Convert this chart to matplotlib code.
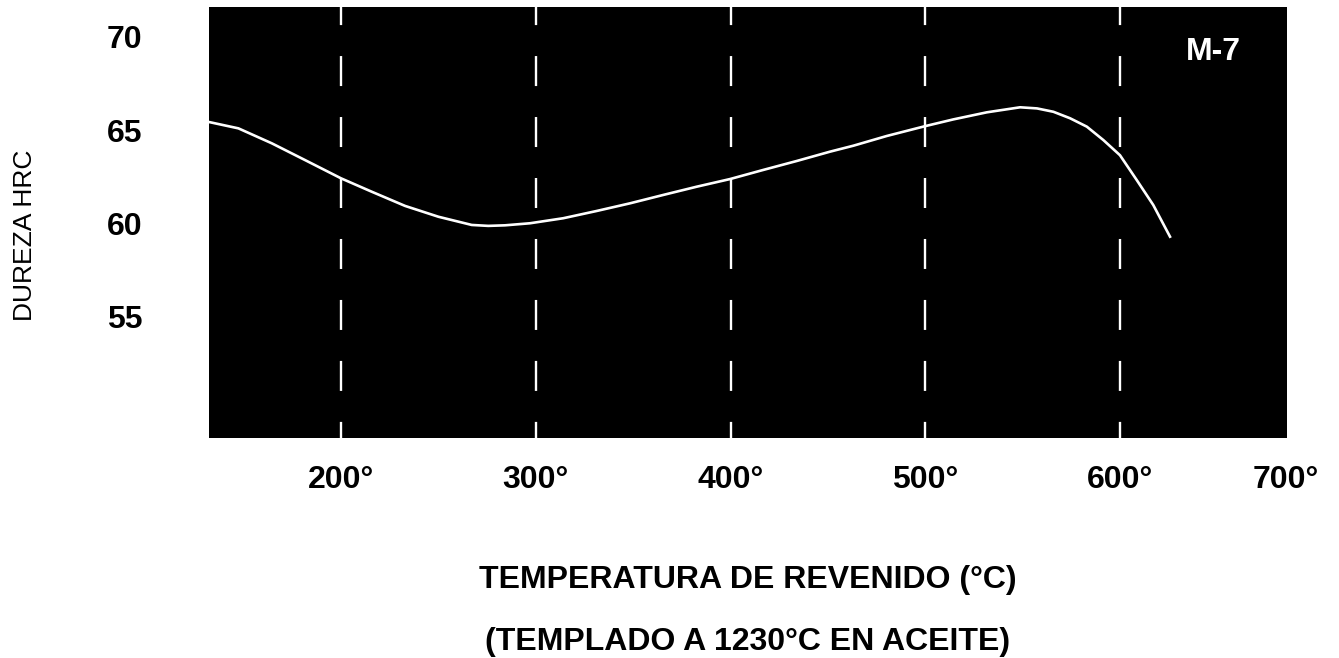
import matplotlib
matplotlib.use("Agg")
import matplotlib.pyplot as plt

temp = [132.2, 147.3, 164.4, 181.5, 200, 215.8, 232.9, 250, 267.1, 275.6,
        284.2, 297, 314.1, 331.3, 348.4, 365.5, 382.6, 399.7, 416.8, 434,
        451.1, 463.1, 480.2, 500, 514.4, 531.6, 548.7, 557.4, 565.8, 574.4,
        583, 591.5, 600, 608.6, 617.1, 625.7]
hrc = [65.43, 65.09, 64.29, 63.39, 62.41, 61.69, 60.93, 60.35, 59.91, 59.86,
       59.89, 60.00, 60.27, 60.66, 61.07, 61.52, 61.96, 62.37, 62.86, 63.34,
       63.84, 64.16, 64.68, 65.21, 65.57, 65.95, 66.22, 66.16, 65.98, 65.63,
       65.18, 64.46, 63.65, 62.32, 60.98, 59.28]

grid_x = [200, 300, 400, 500, 600]
xtick_pos = [200, 300, 400, 500, 600, 685]
xtick_labels = ['200°', '300°', '400°', '500°', '600°', '700°']
ytick_pos = [70, 65, 60, 55]
ytick_labels = ['70', '65', '60', '55']

plt.rcParams['font.family'] = ['Liberation Sans', 'DejaVu Sans']
plt.rcParams['lines.scale_dashes'] = False

fig = plt.figure(figsize=(13.39, 6.58), dpi=100)
ax = fig.add_axes([0.1561, 0.3348, 0.8051, 0.6546])
ax.set_facecolor('black')
for s in ax.spines.values():
    s.set_visible(False)

for gx in grid_x:
    ax.axvline(gx, color='white', lw=1.7, linestyle=(10, (21.6, 22.3)))

ax.plot(temp, hrc, color='white', lw=1.9, solid_joinstyle='round')

ax.text(648, 69.2, 'M-7', color='white', fontsize=23, fontweight='bold',
        ha='center', va='center')

ax.set_xlim(132.2, 685.8)
ax.set_ylim(48.5, 71.6)
ax.set_xticks(xtick_pos)
ax.set_xticklabels(xtick_labels, fontsize=23, fontweight='bold')
ax.set_yticks(ytick_pos)
ax.set_yticklabels(ytick_labels, fontsize=23, fontweight='bold')
ax.tick_params(axis='x', length=0, pad=20)
ax.tick_params(axis='y', length=0, pad=48)

fig.text(25 / 1339, 1 - 235 / 658, 'DUREZA HRC', rotation=90, fontsize=19,
         ha='center', va='center')
fig.text(748 / 1339, 1 - 580 / 658, 'TEMPERATURA DE REVENIDO (°C)',
         fontsize=23, fontweight='bold', ha='center', va='center')
fig.text(748 / 1339, 1 - 642 / 658, '(TEMPLADO A 1230°C EN ACEITE)',
         fontsize=23, fontweight='bold', ha='center', va='center')

fig.savefig('out.png', dpi=100, facecolor='white')
